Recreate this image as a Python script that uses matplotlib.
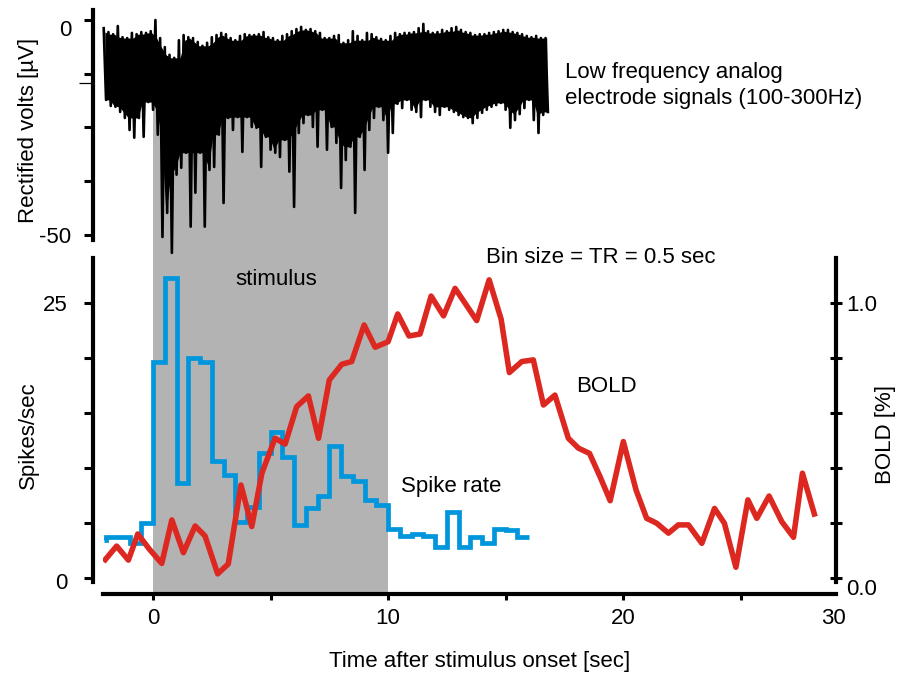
import numpy as np
import matplotlib
matplotlib.use("Agg")
import matplotlib.pyplot as plt
from matplotlib.patches import Rectangle
from matplotlib.transforms import blended_transform_factory, ScaledTranslation

plt.rcParams["font.family"] = ["Liberation Sans", "DejaVu Sans"]
plt.rcParams["font.size"] = 16

# ---------------- data ----------------
stim_on, stim_off = 0.0, 10.0

# rectified electrode signal: upper / lower excursion every 0.2 s (µV)
trace_start, trace_step = -2.1, 0.2
trace_upper = [-1.9, -2.8, -3.3, -1.4, -4.0, -4.2, -3.0, -3.3, -2.8, -3.0,
               -2.6, 0.0, -4.2, -6.3, -8.1, -8.8, -4.7, -3.5, -4.0, -4.2,
               -5.1, -6.0, -5.3, -4.0, -3.5, -3.0, -3.3, -4.2, -4.7, -3.7,
               -3.3, -3.5, -3.5, -3.3, -2.8, -4.0, -4.2, -4.7, -3.7, -3.3,
               -2.6, -2.1, -1.6, -2.3, -2.1, -2.6, -3.0, -4.2, -4.2, -3.7,
               -3.5, -5.3, -4.7, -2.6, -3.7, -4.7, -3.0, -3.3, -4.0, -4.4,
               -4.7, -3.7, -3.0, -3.3, -3.0, -3.0, -2.8, -1.9, -0.9, -2.6,
               -3.0, -2.8, -2.3, -2.6, -1.9, -1.6, -2.3, -2.8, -3.0, -3.5,
               -3.3, -3.3, -3.0, -2.8, -2.6, -2.3, -2.3, -2.8, -3.0, -3.3,
               -3.7, -4.0, -3.7, -4.2, -4.2]
trace_lower = [-18.6, -20.0, -20.2, -21.4, -22.8, -25.6, -27.4, -22.8, -27.2, -19.1,
               -20.9, -26.7, -50.5, -44.9, -54.2, -36.0, -34.4, -30.9, -48.1, -40.2,
               -30.9, -48.1, -34.9, -34.2, -26.7, -42.6, -22.8, -25.6, -22.6, -30.7,
               -22.6, -24.9, -25.1, -34.2, -27.2, -30.2, -30.9, -31.9, -27.9, -35.3,
               -43.5, -26.3, -24.0, -22.1, -24.9, -29.5, -20.9, -30.2, -24.9, -28.6,
               -39.1, -32.6, -29.5, -44.9, -27.2, -34.9, -25.6, -22.8, -20.2, -23.3,
               -30.9, -26.3, -19.5, -20.5, -18.6, -20.9, -21.4, -22.6, -18.6, -20.2,
               -21.4, -22.1, -20.2, -20.9, -21.4, -22.1, -22.6, -22.8, -24.0, -22.8,
               -21.6, -20.9, -20.2, -19.8, -19.3, -20.9, -25.1, -23.3, -21.9, -20.5,
               -18.6, -23.3, -26.3, -22.1, -21.4]

# spike rate in 0.5 s bins (spikes/sec)
spike_edges = [-2.1] + list(np.arange(-2.0, 16.01, 0.5))
spike_rate = [3.5, 3.7, 3.7, 3.2, 5.0,
              19.6, 27.3, 8.6, 20.0, 19.6, 10.6, 9.4, 5.1, 6.5, 11.4,
              13.3, 11.0, 4.8, 6.4, 7.5, 12.0, 9.3, 8.8, 7.1, 6.6,
              4.5, 3.8, 4.0, 3.8, 2.85, 6.0, 2.85, 3.75, 3.2, 4.5, 4.4, 3.7]

# BOLD response (%)
bold_t = [-2.11, -1.55, -1.05, -0.65, -0.15, 0.37, 0.80, 1.29, 1.79, 2.21,
          2.75, 3.20, 3.74, 4.20, 4.63, 5.19, 5.62, 6.11, 6.61, 7.04,
          7.50, 8.03, 8.45, 8.98, 9.45, 10.00, 10.41, 10.89, 11.36, 11.83,
          12.36, 12.85, 13.30, 13.77, 14.30, 14.81, 15.16, 15.69, 16.18, 16.61,
          17.10, 17.67, 18.10, 18.57, 19.02, 19.45, 20.01, 20.55, 21.00, 21.43,
          21.93, 22.35, 22.78, 23.35, 23.89, 24.31, 24.80, 25.31, 25.69, 26.21,
          26.75, 27.25, 27.63, 28.17]
bold = [0.059, 0.116, 0.065, 0.160, 0.104, 0.053, 0.211, 0.092, 0.189, 0.153,
        0.015, 0.051, 0.338, 0.187, 0.381, 0.508, 0.487, 0.623, 0.662, 0.508,
        0.720, 0.777, 0.787, 0.920, 0.839, 0.859, 0.960, 0.880, 0.887, 1.025,
        0.953, 1.053, 0.996, 0.936, 1.084, 0.941, 0.747, 0.787, 0.793, 0.629,
        0.665, 0.508, 0.472, 0.453, 0.368, 0.281, 0.496, 0.320, 0.217, 0.199,
        0.163, 0.193, 0.193, 0.126, 0.253, 0.199, 0.039, 0.284, 0.217, 0.298,
        0.205, 0.148, 0.381, 0.223]

x_ticks = [0, 5, 10, 15, 20, 25, 28.94]
x_ticklabels = ["0", "", "10", "", "20", "", "30"]

# ---------------- styling ----------------
BLUE = "#0096dc"
RED = "#dc2820"
GRAY = "#b3b3b3"
SPINE_W = 3.0
XLIM = (-2.13, 29.06)

fig = plt.figure(figsize=(8.98, 6.76), dpi=100)
ax_top = fig.add_axes([0.1147, 0.645, 0.8163, 0.3402])
ax = fig.add_axes([0.1147, 0.1391, 0.8163, 0.4793])
ax_r = ax.twinx()
for a in (ax_top, ax, ax_r):
    a.set_facecolor("none")
    a.set_xlim(*XLIM)

# stimulus period, spanning both panels
band = Rectangle((stim_on, 1 - 594 / 676), stim_off - stim_on, (594 - 98) / 676,
                 transform=blended_transform_factory(ax.transData, fig.transFigure),
                 facecolor=GRAY, edgecolor="none", zorder=-1)
fig.add_artist(band)

# ---- top panel: electrode signal ----
up = np.asarray(trace_upper)
lo = np.asarray(trace_lower)
n = len(up)
t_up = trace_start + trace_step * np.arange(n)

# dense core of the trace: the band every neighbouring sweep covers
pad_up = np.pad(up, 1, mode="edge")
pad_lo = np.pad(lo, 1, mode="edge")
core_top = np.min(np.stack([pad_up[:-2], pad_up[1:-1], pad_up[2:]]), axis=0)
core_bot = np.max(np.stack([pad_lo[:-2], pad_lo[1:-1], pad_lo[2:]]), axis=0)
ax_top.fill_between(t_up + trace_step / 4, core_top, core_bot,
                    color="black", lw=0, clip_on=False)

# individual sweeps between the excursions
tt = np.empty(2 * n)
yy = np.empty(2 * n)
tt[0::2] = t_up
tt[1::2] = t_up + trace_step / 2
yy[0::2] = up
yy[1::2] = lo
ax_top.plot(tt, yy, color="black", lw=1.9, solid_joinstyle="round", clip_on=False)

ax_top.set_ylim(-51.2, 2.33)
for s in ("top", "right", "bottom"):
    ax_top.spines[s].set_visible(False)
ax_top.spines["left"].set_position(("outward", 7.2))
ax_top.spines["left"].set_linewidth(SPINE_W)
ax_top.set_xticks([])
ax_top.set_yticks([0, -12.5, -25, -37.5, -50], ["0", "", "", "", "-50"])
ax_top.set_yticks([-14.7], minor=True)
ax_top.tick_params(axis="y", which="major", direction="out", length=6.5, width=2.2, pad=9)
ax_top.tick_params(axis="y", which="minor", direction="out", length=10, width=0.9)
ax_top.set_ylabel("Rectified volts [µV]")
ax_top.yaxis.set_label_coords(-0.102, 0.478)
ax_top.yaxis.label.set_verticalalignment("center")
ax_top.text(17.53, -15.3, "Low frequency analog\nelectrode signals (100-300Hz)",
            ha="left", va="center", linespacing=1.3)

# ---- bottom panel: spike rate and BOLD ----
ax.stairs(spike_rate, spike_edges, baseline=None, color=BLUE, lw=3.4)
ax_r.plot(bold_t, bold, color=RED, lw=4.0, solid_joinstyle="round", solid_capstyle="butt")

ax.set_ylim(-0.36, 29.1)
ax_r.set_ylim(-0.0145, 1.1636)

ax.spines["top"].set_visible(False)
ax.spines["right"].set_visible(False)
ax.spines["left"].set_position(("outward", 7.2))
ax.spines["bottom"].set_position(("outward", 8.6))
for s in ("left", "bottom"):
    ax.spines[s].set_linewidth(SPINE_W)
for s in ("top", "left", "bottom"):
    ax_r.spines[s].set_visible(False)
ax_r.spines["right"].set_linewidth(SPINE_W)

ax.set_yticks([0, 5, 10, 15, 20, 25], ["0", "", "", "", "", "25"])
ax.tick_params(axis="y", direction="out", length=6.5, width=2.2, pad=12)
ax_r.set_yticks([0, 0.2, 0.4, 0.6, 0.8, 1.0], ["0.0", "", "", "", "", "1.0"])
ax_r.tick_params(axis="y", direction="inout", length=9, width=2.2, pad=3)

ax.set_xticks(x_ticks, x_ticklabels)
ax.tick_params(axis="x", direction="out", length=4.5, width=2.2, pad=6)
ax.xaxis.get_major_ticks()[-1].tick1line.set_visible(False)

ax.set_ylabel("Spikes/sec")
ax.yaxis.set_label_coords(-0.102, 0.454)
ax.yaxis.label.set_verticalalignment("center")
ax_r.set_ylabel("BOLD [%]", rotation=90)
ax_r.yaxis.set_label_coords(1.067, 0.454)
ax_r.yaxis.label.set_verticalalignment("center")
ax.set_xlabel("Time after stimulus onset [sec]")
ax.xaxis.set_label_coords(0.514, -0.247)
ax.xaxis.label.set_verticalalignment("center")

ax.text(5.23, 27.1, "stimulus", ha="center", va="center")
ax.text(19.06, 29.1, "Bin size = TR = 0.5 sec", ha="center", va="center", clip_on=False)
ax.text(19.28, 17.4, "BOLD", ha="center", va="center")
ax.text(12.7, 8.3, "Spike rate", ha="center", va="center")


def nudge(label, dy_px):
    label.set_transform(label.get_transform()
                        + ScaledTranslation(0, -dy_px / fig.dpi, fig.dpi_scale_trans))


nudge(ax_top.yaxis.get_major_ticks()[0].label1, 8)
nudge(ax_r.yaxis.get_major_ticks()[0].label2, 9)
nudge(ax.yaxis.get_major_ticks()[0].label1, 3)

fig.savefig("out.png", dpi=100)
